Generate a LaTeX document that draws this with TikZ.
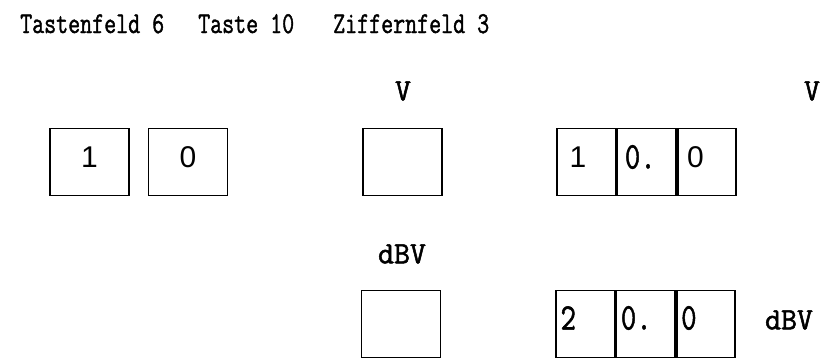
\documentclass[tikz,border=0pt]{standalone}
\usepackage{fontspec}
\newfontfamily\typew[FakeBold=1.6]{Latin Modern Mono}
\newfontfamily\digsans{Liberation Sans}
\newcommand{\tall}[1]{\scalebox{1}[1.3]{#1}}
\newcommand{\talld}[1]{\scalebox{1}[1.25]{#1}}
\begin{document}
\begin{tikzpicture}[x=1pt,y=-1pt,
  lbl/.style={font=\typew\fontsize{23.3}{25}\selectfont, inner sep=0pt},
  unit/.style={font=\typew\fontsize{31}{33}\selectfont, inner sep=0pt},
  keybox/.style={draw, line width=1.8pt, minimum width=79pt, minimum height=67pt, inner sep=0pt},
  cellbox/.style={draw, line width=1.8pt, minimum width=58.5pt, minimum height=67pt, inner sep=0pt},
  digs/.style={font=\digsans\fontsize{30}{32}\selectfont, inner sep=0pt},
  digm/.style={font=\typew\fontsize{30}{32}\selectfont, inner sep=0pt}]
\useasboundingbox (0,0) rectangle (824,360);
% titles
\node[lbl, anchor=base west] (t1) at (20,33) {\tall{Tastenfeld 6}};
\node[lbl, anchor=base west] (t2) at (198,33) {\tall{Taste 10}};
\node[lbl, anchor=base west] (t3) at (333,33) {\tall{Ziffernfeld 3}};
% unit labels
\node[unit] (v1) at (403,91) {V};
\node[unit] (v2) at (812,91) {V};
\node[unit] (d1) at (402,254) {dBV};
\node[unit] (d2) at (789,320) {dBV};
% Tastenfeld keys
\node[keybox] (k1) at (89.5,162) {};
\node[keybox] (k0) at (188,162) {};
\node[digs] at ([yshift=5pt]k1.center) {1};
\node[digs] at ([yshift=5pt]k0.center) {0};
% Taste keys
\node[keybox] (tv) at (402.5,162) {};
\node[keybox] (td) at (401,324) {};
% Ziffernfeld row 1
\node[cellbox] (a1) at (586.5,162) {};
\node[cellbox, anchor=west] (a2) at (a1.east) {};
\node[cellbox, anchor=west] (a3) at (a2.east) {};
\node[digs, anchor=west] at ([xshift=13pt,yshift=5pt]a1.west) {1};
\node[digm, anchor=west] at ([xshift=8pt,yshift=5pt]a2.west) {\talld{0.}};
\node[digs, anchor=west] at ([xshift=10pt,yshift=5pt]a3.west) {0};
% Ziffernfeld row 2
\node[cellbox] (b1) at (585.5,324) {};
\node[cellbox, anchor=west] (b2) at (b1.east) {};
\node[cellbox, anchor=west] (b3) at (b2.east) {};
\node[digm, anchor=west] at ([xshift=5pt,yshift=6pt]b1.west) {\talld{2}};
\node[digm, anchor=west] at ([xshift=5pt,yshift=6pt]b2.west) {\talld{0.}};
\node[digm, anchor=west] at ([xshift=5pt,yshift=6pt]b3.west) {\talld{0}};
\end{tikzpicture}
\end{document}
